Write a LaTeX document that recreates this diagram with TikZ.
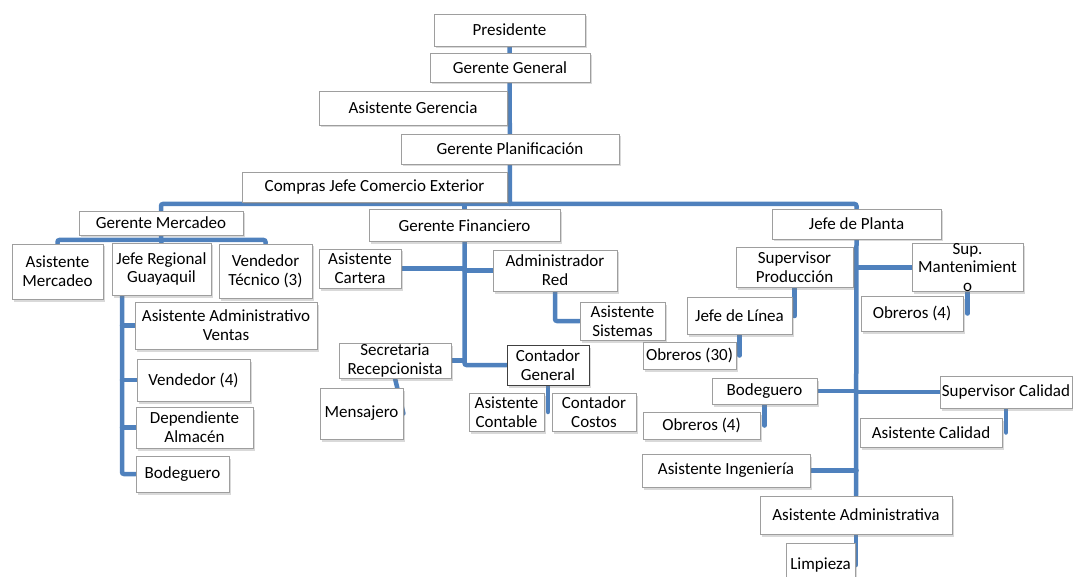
\documentclass[tikz,border=0pt]{standalone}
\usepackage{fontspec}
\setmainfont{Carlito}
\usetikzlibrary{
  shadows,
  backgrounds
}
\definecolor{linkblue}{RGB}{79,129,189}

\begin{document}
\begin{tikzpicture}[
  x = 1pt, y = -1pt,
  % ── Position box ────────────────────────────────────────
  block/.style={
    rectangle,
    draw          = black!38,
    line width    = 0.8pt,
    fill          = white,
    align         = center,
    inner sep     = 0pt,
    font          = \fontsize{17}{18.7}\selectfont,
    drop shadow   = {shadow xshift=2pt, shadow yshift=-2.5pt, opacity=0.3}
  },
  % ── Box with dark border ────────────────────────────────
  darkblock/.style={
    block,
    draw = black!75
  },
  % ── Box size ────────────────────────────────────────────
  sz/.style 2 args={
    minimum width  = #1pt,
    minimum height = #2pt
  },
  % ── Connector ───────────────────────────────────────────
  link/.style={
    draw            = linkblue,
    line width      = 4.5pt,
    line cap        = round,
    rounded corners = 2pt
  }
]
\useasboundingbox (0,0) rectangle (1073,577);

% ── Top management ─────────────────────────────────────────
\node[block, sz={151}{32}]  (pres) at (509.5,30)  {Presidente};
\node[block, sz={160}{29}]  (gg)   at (510,67.5)  {Gerente General};
\node[block, sz={188}{34}]  (ag)   at (413,108)   {Asistente Gerencia};
\node[block, sz={218}{30}]  (gp)   at (510,149)   {Gerente Planificación};
\node[block, sz={265}{30}]  (cje)  at (374.5,187) {Compras Jefe Comercio Exterior};
\coordinate (bar) at (510,204);

% ── Mercadeo ───────────────────────────────────────────────
\node[block, sz={164}{24}]  (gm)   at (161,223)   {Gerente Mercadeo};
\node[block, sz={91}{55}]   (am)   at (57.5,271.5){Asistente\\Mercadeo};
\node[block, sz={99}{52}]   (jr)   at (161.5,269) {Jefe Regional\\Guayaquil};
\node[block, sz={93}{54}]   (vt)   at (265.5,271) {Vendedor\\Técnico (3)};
\node[block, sz={182}{47}]  (aav)  at (226,325.5) {Asistente Administrativo\\Ventas};
\node[block, sz={113}{42}]  (v4)   at (193.5,380) {Vendedor (4)};
\node[block, sz={117}{41}]  (da)   at (194.5,427.5){Dependiente\\Almacén};
\node[block, sz={93}{36}]   (bl)   at (182.5,474) {Bodeguero};
\coordinate (mbar) at (161,240);
\coordinate (jrl)  at (122,295);

% ── Finanzas ───────────────────────────────────────────────
\node[block, sz={191}{32}]  (gf)   at (464.5,225.5){Gerente Financiero};
\node[block, sz={82}{39}]   (ac)   at (360,268.5) {Asistente\\Cartera};
\node[block, sz={124}{41}]  (ar)   at (555,270.5) {Administrador\\Red};
\node[block, sz={85}{38}]   (as)   at (622.5,321) {Asistente\\Sistemas};
\node[block, sz={112}{35}]  (sr)   at (395,360.5) {Secretaria\\Recepcionista};
\node[block, sz={83}{51}]   (ms)   at (361.5,413.5){Mensajero};
\node[darkblock, sz={82}{40}] (cg) at (548,365)   {Contador\\General};
\node[block, sz={75}{38}]   (acn)  at (506.5,412) {Asistente\\Contable};
\node[block, sz={84}{38}]   (cc)   at (594,412)   {Contador\\Costos};

% ── Planta ─────────────────────────────────────────────────
\node[block, sz={169}{30}]  (jp)   at (856.5,224) {Jefe de Planta};
\node[block, sz={117}{40}]  (sp)   at (794.5,267) {Supervisor\\Producción};
\node[block, sz={111}{39}]  (smt)  at (967.5,267.5){Sup.\\Mantenimient\\o};
\node[block, sz={105}{37}]  (jl)   at (739.5,316) {Jefe de Línea};
\node[block, sz={93}{27}]   (ob30) at (689.5,355.5){Obreros (30)};
\node[block, sz={102}{35}]  (ob4r) at (912,313.5) {Obreros (4)};
\node[block, sz={105}{26}]  (bgr)  at (764.5,391) {Bodeguero};
\node[block, sz={117}{27}]  (ob4m) at (701.5,425.5){Obreros (4)};
\node[block, sz={132}{32}]  (sc)   at (1006,392)  {Supervisor Calidad};
\node[block, sz={142}{29}]  (asc)  at (931,432.5) {Asistente Calidad};
\node[block, sz={168}{33}]  (ai)   at (726,470.5) {Asistente Ingeniería};
\node[block, sz={192}{38}]  (aad)  at (856,515)   {Asistente Administrativa};
\node[block, sz={69}{44}]   (lp)   at (820.5,565) {Limpieza};

% ── Connectors ─────────────────────────────────────────────
\begin{scope}[on background layer]
  % trunk and main bar
  \draw[link] (pres.south) -- (bar);
  \draw[link] (gm.north) |- (bar) -| (jp.north);
  \draw[link] (gf.north) -- (gf.north |- bar);

  % mercadeo
  \draw[link] (am.north) |- (mbar) -| (vt.north);
  \draw[link] (gm.south) -- (jr.north);
  \draw[link] (jrl) |- (bl.west);
  \foreach \n in {aav, v4, da}
    \draw[link] (jrl |- \n.west) -- (\n.west);

  % finanzas
  \draw[link] (gf.south) |- (cg.west);
  \foreach \n in {ac, sr}
    \draw[link] (\n.east) -- (\n.east -| gf.south);
  \draw[link] (ar.west) -- (ar.west -| gf.south);
  \draw[link] (ar.south) |- (as.west);
  \draw[link] (sr.south) -- (ms.east);
  \draw[link] (cg.south) -- (cg.south |- acn.east);

  % planta
  \draw[link] (jp.south) -- (aad.north);
  \foreach \n in {smt, sc}
    \draw[link] (\n.west) -- (\n.west -| jp.south);
  \foreach \n in {bgr, ai}
    \draw[link] (\n.east) -- (\n.east -| jp.south);
  \foreach \p/\c in {sp/jl, jl/ob30, smt/ob4r, bgr/ob4m, sc/asc, aad/lp}
    \draw[link] (\p.south) -- (\p.south |- \c.east);
\end{scope}

\end{tikzpicture}
\end{document}
